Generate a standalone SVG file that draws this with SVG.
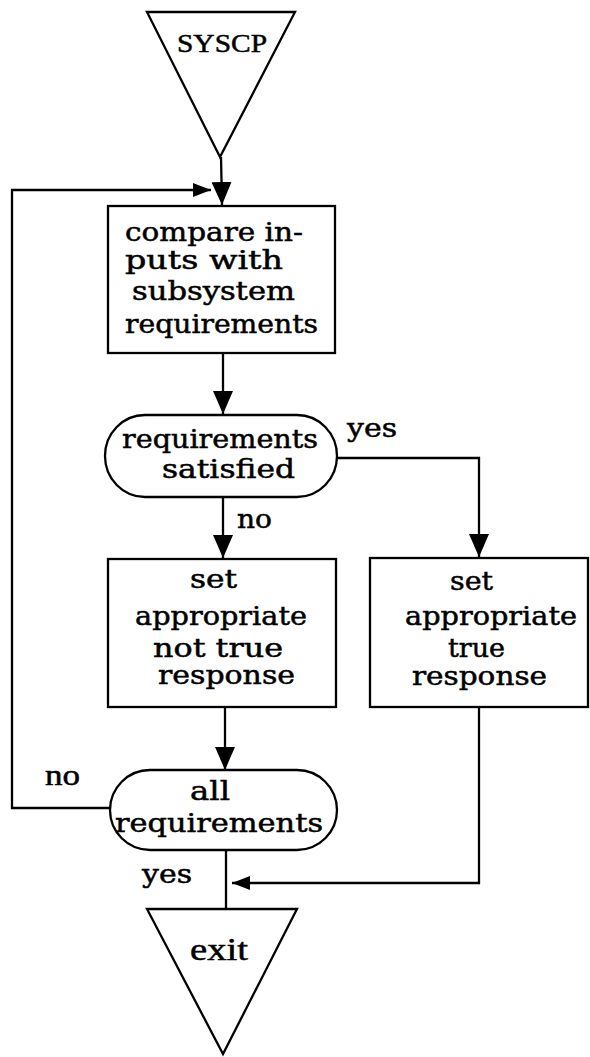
<svg xmlns="http://www.w3.org/2000/svg" width="590" height="1057" viewBox="0 0 590 1057">
<defs>
<style>
.s{fill:#fff;stroke:#000;stroke-width:2.3}
.c{fill:none;stroke:#000;stroke-width:2.3}
.t{font-family:"DejaVu Serif","Liberation Serif",serif;font-size:26px;fill:#000;stroke:#000;stroke-width:0.5}
.r{font-family:"Liberation Serif","DejaVu Serif",serif;fill:#000;stroke:#000;stroke-width:0.5}
</style>
<marker id="big" markerUnits="userSpaceOnUse" markerWidth="24" markerHeight="20" refX="23" refY="10" orient="auto">
<path d="M0,0 L23,10 L0,20 z" fill="#000"/>
</marker>
<marker id="small" markerUnits="userSpaceOnUse" markerWidth="19" markerHeight="14" refX="18" refY="7" orient="auto">
<path d="M0,0 L18,7 L0,14 z" fill="#000"/>
</marker>
</defs>
<rect width="590" height="1057" fill="#fff"/>
<g id="connectors">
<line class="c" x1="221" y1="157" x2="222" y2="205" marker-end="url(#big)"/>
<path class="c" d="M110,808 H12 V190 H211" marker-end="url(#small)"/>
<line class="c" x1="223" y1="353" x2="223" y2="414" marker-end="url(#big)"/>
<path class="c" d="M337,458 H479 V557" marker-end="url(#big)"/>
<line class="c" x1="223" y1="497" x2="223" y2="558" marker-end="url(#big)"/>
<line class="c" x1="225" y1="707" x2="225" y2="770" marker-end="url(#big)"/>
<line class="c" x1="226" y1="850" x2="226" y2="909"/>
<path class="c" d="M479,707 V883 H232" marker-end="url(#small)"/>
</g>
<g id="start">
<polygon class="s" points="147,12 295,12 220,157"/>
<text class="r" x="177" y="52" font-size="26" textLength="90" lengthAdjust="spacingAndGlyphs">SYSCP</text>
</g>
<g id="compare">
<rect class="s" x="108" y="206" width="227" height="147"/>
<text class="t" x="125" y="241" textLength="178" lengthAdjust="spacingAndGlyphs">compare in-</text>
<text class="t" x="125" y="269" textLength="158" lengthAdjust="spacingAndGlyphs">puts  with</text>
<text class="t" x="132" y="300" textLength="163" lengthAdjust="spacingAndGlyphs">subsystem</text>
<text class="t" x="125" y="333" textLength="193" lengthAdjust="spacingAndGlyphs">requirements</text>
</g>
<g id="decision1">
<rect class="s" x="105" y="415" width="232" height="82" rx="40" ry="41"/>
<text class="t" x="122" y="448" textLength="196" lengthAdjust="spacingAndGlyphs">requirements</text>
<text class="t" x="162" y="478" textLength="133" lengthAdjust="spacingAndGlyphs">satisfied</text>
</g>
<g id="labels">
<text class="t" x="347" y="437" textLength="50" lengthAdjust="spacingAndGlyphs">yes</text>
<text class="t" x="237" y="528" textLength="35" lengthAdjust="spacingAndGlyphs">no</text>
<text class="r" x="45" y="785" font-size="30" textLength="35" lengthAdjust="spacingAndGlyphs">no</text>
<text class="t" x="142" y="883" textLength="50" lengthAdjust="spacingAndGlyphs">yes</text>
</g>
<g id="notTrue">
<rect class="s" x="108" y="559" width="228" height="148"/>
<text class="t" x="190" y="588" textLength="47" lengthAdjust="spacingAndGlyphs">set</text>
<text class="t" x="135" y="625" textLength="172" lengthAdjust="spacingAndGlyphs">appropriate</text>
<text class="t" x="153" y="657" textLength="130" lengthAdjust="spacingAndGlyphs">not  true</text>
<text class="t" x="158" y="684" textLength="137" lengthAdjust="spacingAndGlyphs">response</text>
</g>
<g id="true">
<rect class="s" x="370" y="558" width="218" height="149"/>
<text class="t" x="450" y="590" textLength="43" lengthAdjust="spacingAndGlyphs">set</text>
<text class="t" x="405" y="625" textLength="172" lengthAdjust="spacingAndGlyphs">appropriate</text>
<text class="t" x="448" y="657" textLength="57" lengthAdjust="spacingAndGlyphs">true</text>
<text class="t" x="412" y="685" textLength="135" lengthAdjust="spacingAndGlyphs">response</text>
</g>
<g id="decision2">
<rect class="s" x="110" y="770" width="227" height="80" rx="40" ry="40"/>
<text class="t" x="190" y="800" textLength="40" lengthAdjust="spacingAndGlyphs">all</text>
<text class="t" x="115" y="832" textLength="208" lengthAdjust="spacingAndGlyphs">requirements</text>
</g>
<g id="exit">
<polygon class="s" points="147,909 297,909 223,1054"/>
<text class="r" x="190" y="960" font-size="32" textLength="58" lengthAdjust="spacingAndGlyphs">exit</text>
</g>
</svg>
